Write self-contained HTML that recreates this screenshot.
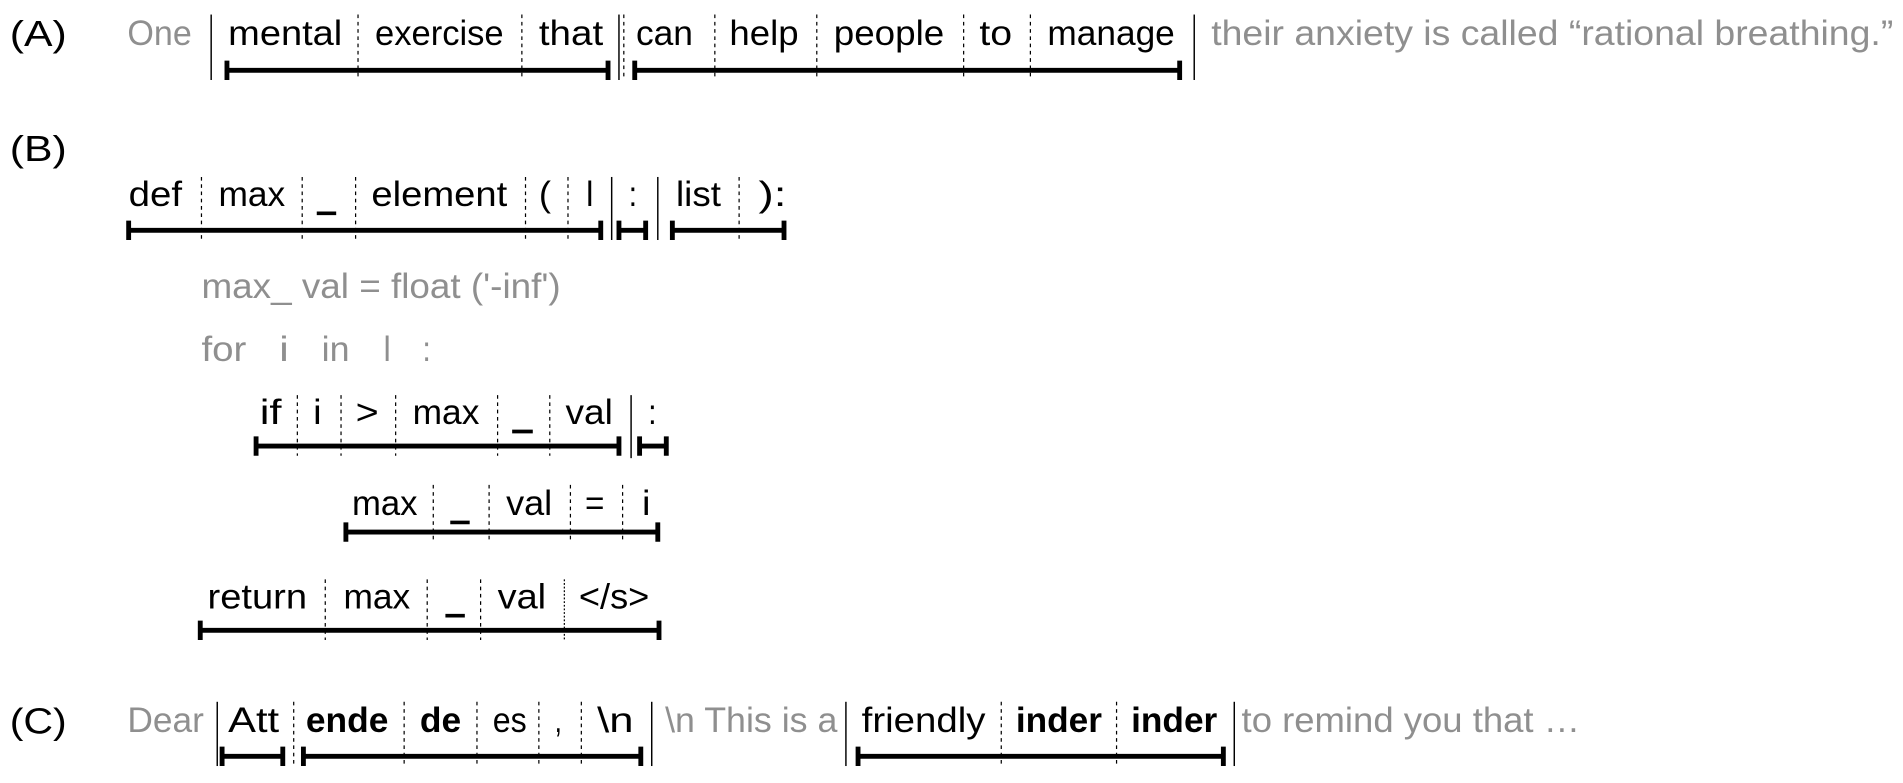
<!DOCTYPE html>
<html><head><meta charset="utf-8"><style>
html,body{margin:0;padding:0;background:#fff;width:1903px;height:783px;overflow:hidden}
svg{display:block}
text{font-family:"Liberation Sans",sans-serif;font-size:29px;fill:#000}
.g{fill:#8f8f8f}
.b{font-weight:bold}
.lab{font-size:30px}
.br{stroke:#000;stroke-width:4;fill:none}
.s{stroke:#000;stroke-width:1.2}
.d{stroke:#000;stroke-width:1;stroke-dasharray:3,3}
</style></head><body>
<svg width="1903" height="783" viewBox="0 0 1568 646" preserveAspectRatio="none">
<!-- (A) -->
<text class="lab" x="8" y="38" textLength="47" lengthAdjust="spacingAndGlyphs">(A)</text>
<text class="g" x="105" y="37" textLength="53" lengthAdjust="spacingAndGlyphs">One</text>
<line class="s" x1="174" y1="12" x2="174" y2="66"/>
<text x="188" y="37" textLength="94" lengthAdjust="spacingAndGlyphs">mental</text>
<line class="d" x1="295" y1="12" x2="295" y2="66"/>
<text x="309" y="37" textLength="106" lengthAdjust="spacingAndGlyphs">exercise</text>
<line class="d" x1="430" y1="12" x2="430" y2="66"/>
<text x="444" y="37" textLength="53" lengthAdjust="spacingAndGlyphs">that</text>
<line class="s" x1="510" y1="12" x2="510" y2="66"/>
<line class="d" x1="514" y1="12" x2="514" y2="66"/>
<text x="524" y="37" textLength="47" lengthAdjust="spacingAndGlyphs">can</text>
<line class="d" x1="589" y1="12" x2="589" y2="66"/>
<text x="601" y="37" textLength="57" lengthAdjust="spacingAndGlyphs">help</text>
<line class="d" x1="673" y1="12" x2="673" y2="66"/>
<text x="687" y="37" textLength="91" lengthAdjust="spacingAndGlyphs">people</text>
<line class="d" x1="794" y1="12" x2="794" y2="66"/>
<text x="807" y="37" textLength="27" lengthAdjust="spacingAndGlyphs">to</text>
<line class="d" x1="849" y1="12" x2="849" y2="66"/>
<text x="863" y="37" textLength="105" lengthAdjust="spacingAndGlyphs">manage</text>
<line class="s" x1="984" y1="12" x2="984" y2="66"/>
<text class="g" x="998" y="37" textLength="562" lengthAdjust="spacingAndGlyphs">their anxiety is called “rational breathing.”</text>
<path class="br" d="M187 58H501M187 50V66M501 50V66"/>
<path class="br" d="M523 58H972M523 50V66M972 50V66"/>

<!-- (B) -->
<text class="lab" x="8" y="133" textLength="47" lengthAdjust="spacingAndGlyphs">(B)</text>
<text x="106" y="170" textLength="44" lengthAdjust="spacingAndGlyphs">def</text>
<line class="d" x1="166" y1="146" x2="166" y2="198"/>
<text x="180" y="170" textLength="55" lengthAdjust="spacingAndGlyphs">max</text>
<line class="d" x1="249" y1="146" x2="249" y2="198"/>
<line stroke="#000" stroke-width="3" x1="261" y1="176" x2="277" y2="176"/>
<line class="d" x1="293" y1="146" x2="293" y2="198"/>
<text x="306" y="170" textLength="112" lengthAdjust="spacingAndGlyphs">element</text>
<line class="d" x1="433" y1="146" x2="433" y2="198"/>
<text x="444" y="170" textLength="10" lengthAdjust="spacingAndGlyphs">(</text>
<line class="d" x1="468" y1="146" x2="468" y2="198"/>
<text x="483" y="170" textLength="6" lengthAdjust="spacingAndGlyphs">l</text>
<line class="s" x1="504" y1="146" x2="504" y2="198"/>
<text x="518" y="170" textLength="7" lengthAdjust="spacingAndGlyphs">:</text>
<line class="s" x1="542" y1="146" x2="542" y2="198"/>
<text x="557" y="170" textLength="37" lengthAdjust="spacingAndGlyphs">list</text>
<line class="d" x1="609" y1="146" x2="609" y2="198"/>
<text x="625" y="170" textLength="23" lengthAdjust="spacingAndGlyphs">):</text>
<path class="br" d="M106 190H495M106 182V198M495 182V198"/>
<path class="br" d="M510 190H532M510 182V198M532 182V198"/>
<path class="br" d="M554 190H646M554 182V198M646 182V198"/>

<text class="g" x="166" y="246" textLength="296" lengthAdjust="spacingAndGlyphs">max_ val = float ('-inf')</text>
<text class="g" x="166" y="298" textLength="37" lengthAdjust="spacingAndGlyphs">for</text>
<text class="g" x="230" y="298" textLength="8" lengthAdjust="spacingAndGlyphs">i</text>
<text class="g" x="265" y="298" textLength="23" lengthAdjust="spacingAndGlyphs">in</text>
<text class="g" x="316" y="298" textLength="6" lengthAdjust="spacingAndGlyphs">l</text>
<text class="g" x="348" y="298" textLength="7" lengthAdjust="spacingAndGlyphs">:</text>

<text x="214" y="350" textLength="18" lengthAdjust="spacingAndGlyphs">if</text>
<line class="d" x1="245" y1="326" x2="245" y2="376"/>
<text x="258" y="350" textLength="7" lengthAdjust="spacingAndGlyphs">i</text>
<line class="d" x1="281" y1="326" x2="281" y2="376"/>
<text x="293" y="350" textLength="19" lengthAdjust="spacingAndGlyphs">&gt;</text>
<line class="d" x1="326" y1="326" x2="326" y2="376"/>
<text x="340" y="350" textLength="55" lengthAdjust="spacingAndGlyphs">max</text>
<line class="d" x1="410" y1="326" x2="410" y2="376"/>
<line stroke="#000" stroke-width="3" x1="422" y1="356" x2="439" y2="356"/>
<line class="d" x1="453" y1="326" x2="453" y2="376"/>
<text x="466" y="350" textLength="39" lengthAdjust="spacingAndGlyphs">val</text>
<line class="s" x1="520" y1="326" x2="520" y2="378"/>
<text x="534" y="350" textLength="7" lengthAdjust="spacingAndGlyphs">:</text>
<path class="br" d="M211 368H510M211 360V376M510 360V376"/>
<path class="br" d="M527 368H549M527 360V376M549 360V376"/>

<text x="290" y="425" textLength="54" lengthAdjust="spacingAndGlyphs">max</text>
<line class="d" x1="357" y1="400" x2="357" y2="446"/>
<line stroke="#000" stroke-width="3" x1="371" y1="431" x2="387" y2="431"/>
<line class="d" x1="403" y1="400" x2="403" y2="446"/>
<text x="417" y="425" textLength="38" lengthAdjust="spacingAndGlyphs">val</text>
<line class="d" x1="470" y1="400" x2="470" y2="446"/>
<text x="482" y="425" textLength="16" lengthAdjust="spacingAndGlyphs">=</text>
<line class="d" x1="513" y1="400" x2="513" y2="446"/>
<text x="529" y="425" textLength="7" lengthAdjust="spacingAndGlyphs">i</text>
<path class="br" d="M285 439H542M285 431V447M542 431V447"/>

<text x="171" y="502" textLength="82" lengthAdjust="spacingAndGlyphs">return</text>
<line class="d" x1="268" y1="478" x2="268" y2="528"/>
<text x="283" y="502" textLength="55" lengthAdjust="spacingAndGlyphs">max</text>
<line class="d" x1="352" y1="478" x2="352" y2="528"/>
<line stroke="#000" stroke-width="3" x1="367" y1="508" x2="383" y2="508"/>
<line class="d" x1="396" y1="478" x2="396" y2="528"/>
<text x="410" y="502" textLength="40" lengthAdjust="spacingAndGlyphs">val</text>
<line class="d" x1="465" y1="478" x2="465" y2="528" style="stroke-dasharray:1.5,1.5"/>
<text x="477" y="502" textLength="58" lengthAdjust="spacingAndGlyphs">&lt;/s&gt;</text>
<path class="br" d="M165 520H543M165 512V528M543 512V528"/>

<!-- (C) -->
<text class="lab" x="8" y="605" textLength="47" lengthAdjust="spacingAndGlyphs">(C)</text>
<text class="g" x="105" y="604" textLength="63" lengthAdjust="spacingAndGlyphs">Dear</text>
<line class="s" x1="179" y1="579" x2="179" y2="632"/>
<text x="188" y="604" textLength="42" lengthAdjust="spacingAndGlyphs">Att</text>
<line class="d" x1="242" y1="579" x2="242" y2="632"/>
<text class="b" x="252" y="604" textLength="68" lengthAdjust="spacingAndGlyphs">ende</text>
<line class="d" x1="333" y1="579" x2="333" y2="632"/>
<text class="b" x="346" y="604" textLength="34" lengthAdjust="spacingAndGlyphs">de</text>
<line class="d" x1="393" y1="579" x2="393" y2="632"/>
<text x="406" y="604" textLength="28" lengthAdjust="spacingAndGlyphs">es</text>
<line class="d" x1="444" y1="579" x2="444" y2="632"/>
<text x="457" y="604" textLength="6" lengthAdjust="spacingAndGlyphs">,</text>
<line class="d" x1="479" y1="579" x2="479" y2="632"/>
<text x="492" y="604" textLength="30" lengthAdjust="spacingAndGlyphs">\n</text>
<line class="s" x1="537" y1="579" x2="537" y2="632"/>
<text class="g" x="548" y="604" textLength="142" lengthAdjust="spacingAndGlyphs">\n This is a</text>
<line class="s" x1="697" y1="579" x2="697" y2="632"/>
<text x="710" y="604" textLength="102" lengthAdjust="spacingAndGlyphs">friendly</text>
<line class="d" x1="825" y1="579" x2="825" y2="632"/>
<text class="b" x="837" y="604" textLength="71" lengthAdjust="spacingAndGlyphs">inder</text>
<line class="d" x1="920" y1="579" x2="920" y2="632"/>
<text class="b" x="932" y="604" textLength="71" lengthAdjust="spacingAndGlyphs">inder</text>
<line class="s" x1="1017" y1="579" x2="1017" y2="632"/>
<text class="g" x="1023" y="604" textLength="279" lengthAdjust="spacingAndGlyphs">to remind you that …</text>
<path class="br" d="M183 624H233M183 616V632M233 616V632"/>
<path class="br" d="M250 624H528M250 616V632M528 616V632"/>
<path class="br" d="M707 624H1008M707 616V632M1008 616V632"/>
</svg>
</body></html>
